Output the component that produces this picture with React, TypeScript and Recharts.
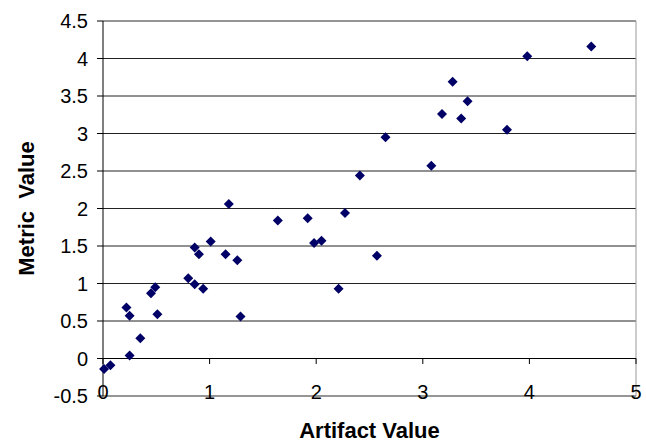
import { ScatterChart, Scatter, XAxis, YAxis, CartesianGrid, ReferenceLine, Label } from 'recharts';

// values
const artifactValues = [
  0.01, 0.07, 0.22, 0.25, 0.25, 0.35, 0.45, 0.49, 0.51, 0.8, 0.86, 0.86, 0.9, 0.94, 1.01, 1.15, 1.18, 1.26,
  1.29, 1.64, 1.92, 1.98, 2.05, 2.21, 2.27, 2.41, 2.57, 2.65, 3.08, 3.18, 3.28, 3.36, 3.42, 3.79, 3.98, 4.58,
];
const metricValues = [
  -0.14, -0.09, 0.68, 0.57, 0.04, 0.27, 0.87, 0.95, 0.59, 1.07, 0.99, 1.48, 1.39, 0.93, 1.56, 1.39, 2.06, 1.31,
  0.56, 1.84, 1.87, 1.54, 1.57, 0.93, 1.94, 2.44, 1.37, 2.95, 2.57, 3.26, 3.69, 3.2, 3.43, 3.05, 4.03, 4.16,
];
const xTicks = [0, 1, 2, 3, 4, 5];
const yTicks = [-0.5, 0, 0.5, 1, 1.5, 2, 2.5, 3, 3.5, 4, 4.5];

const data = artifactValues.map((x, i) => ({ x, y: metricValues[i] }));

const FONT = '"Liberation Sans", Arial, sans-serif';
const BORDER = '#999999';

const Diamond = (props: any) => {
  const { cx, cy } = props;
  const r = 5;
  return (
    <polygon
      points={`${cx},${cy - r} ${cx + r},${cy} ${cx},${cy + r} ${cx - r},${cy}`}
      fill="#000066"
    />
  );
};

// x labels sit on the bottom border, small tick marks hang from the y=0 line
const XTick = (props: any) => {
  const { x, y, payload } = props;
  return (
    <g>
      <line x1={x} x2={x} y1={y - 37.5} y2={y - 32} stroke="#000" />
      <text x={x} y={y} dy={3} textAnchor="middle" fill="#000" fontSize={20} fontFamily={FONT}>
        {payload.value}
      </text>
    </g>
  );
};

export default function App() {
  return (
    <div style={{ position: 'absolute', left: 0, top: 0, background: '#fff' }}>
      <ScatterChart width={646} height={443} margin={{ top: 21, right: 10, bottom: 0, left: 0 }}>
        <CartesianGrid vertical={false} stroke="#222" strokeDasharray="" />
        <XAxis
          type="number"
          dataKey="x"
          domain={[0, 5]}
          ticks={xTicks}
          height={47}
          axisLine={{ stroke: BORDER }}
          tickLine={false}
          tickSize={0}
          tickMargin={0}
          tick={<XTick />}
          interval={0}
        >
          <Label
            content={({ viewBox }: any) => (
              <text
                x={viewBox.x + viewBox.width / 2}
                y={viewBox.y + 42}
                textAnchor="middle"
                fontSize={22}
                fontWeight="bold"
                fontFamily={FONT}
                fill="#000"
              >
                Artifact Value
              </text>
            )}
          />
        </XAxis>
        <YAxis
          type="number"
          dataKey="y"
          domain={[-0.5, 4.5]}
          ticks={yTicks}
          width={103}
          interval={0}
          axisLine={{ stroke: '#000' }}
          tickLine={{ stroke: '#000' }}
          tickSize={6}
          tickMargin={9}
          tick={{ fill: '#000', fontSize: 20, fontFamily: FONT }}
        >
          <Label
            content={({ viewBox }: any) => {
              const cx = 34;
              const cy = viewBox.y + viewBox.height / 2;
              return (
                <text
                  x={cx}
                  y={cy}
                  transform={`rotate(-90, ${cx}, ${cy})`}
                  textAnchor="middle"
                  fontSize={22}
                  fontWeight="bold"
                  fontFamily={FONT}
                  fill="#000"
                  style={{ whiteSpace: 'pre' }}
                >
                  Metric  Value
                </text>
              );
            }}
          />
        </YAxis>
        <ReferenceLine y={4.5} stroke={BORDER} />
        <ReferenceLine x={5} stroke={BORDER} />
        <ReferenceLine y={0} stroke="#000" />
        <Scatter data={data} shape={<Diamond />} isAnimationActive={false} />
      </ScatterChart>
    </div>
  );
}
